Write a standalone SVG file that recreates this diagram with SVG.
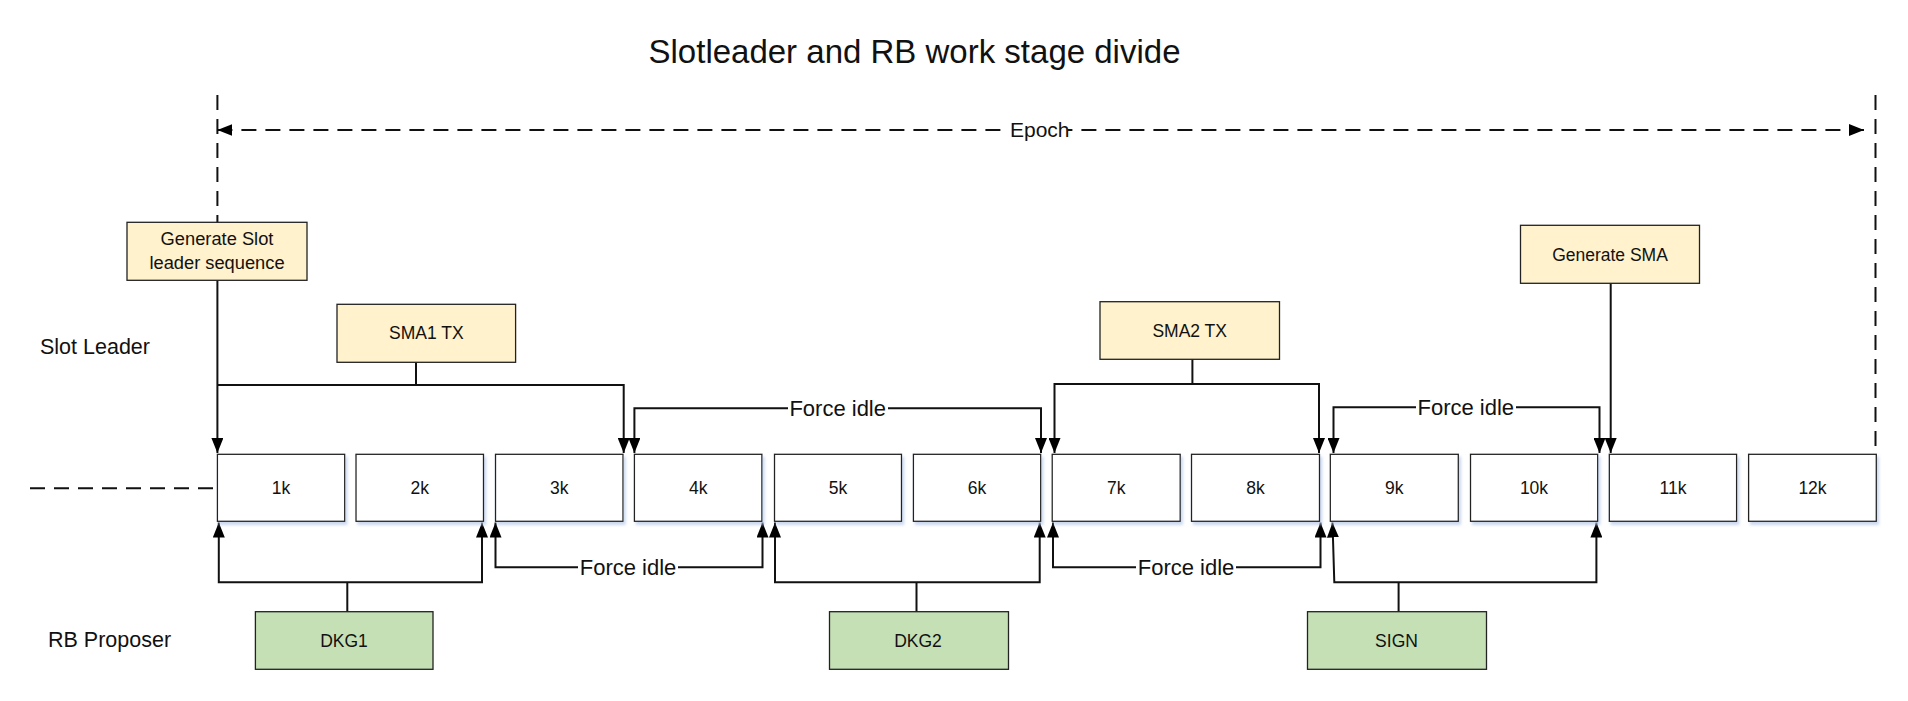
<svg xmlns="http://www.w3.org/2000/svg" width="1908" height="701" viewBox="0 0 1908 701">
<style>
text{font-family:"Liberation Sans",Arial,sans-serif;fill:#111}
.title{font-size:33px}
.lane{font-size:21.5px}
.lbl{font-size:17.5px;text-anchor:middle}
.fi{font-size:22px;text-anchor:middle}
.slot{fill:#fff;stroke:#222;stroke-width:1.3;filter:url(#sh)}
.yel{fill:#fff2cc;stroke:#222;stroke-width:1.3}
.grn{fill:#c5e0b4;stroke:#222;stroke-width:1.3}
.ln{fill:none;stroke:#111;stroke-width:2}
.dash{fill:none;stroke:#111;stroke-width:2;stroke-dasharray:15 9}
.bg{fill:#fff}
</style>
<defs>
<filter id="sh" x="-10%" y="-10%" width="130%" height="140%">
<feDropShadow dx="2" dy="3" stdDeviation="1.5" flood-color="#b4c7e7" flood-opacity="0.7"/>
</filter>
<marker id="ah" markerUnits="userSpaceOnUse" markerWidth="16" markerHeight="12" viewBox="0 0 16 12" refX="15" refY="6" orient="auto-start-reverse">
<path d="M0,0 L15,6 L0,12 z" fill="#000"/>
</marker>
</defs>
<rect width="1908" height="701" fill="#fff"/>
<text class="title" x="914.5" y="63" text-anchor="middle">Slotleader and RB work stage divide</text>
<text class="lane" x="40" y="354">Slot Leader</text>
<text class="lane" x="48" y="647">RB Proposer</text>

<g id="connectors">
<path class="dash" d="M217.4,95 V222.3"/>
<path class="dash" d="M1875.5,95 V454.3"/>
<path class="dash" d="M217.4,130 H1864" marker-start="url(#ah)" marker-end="url(#ah)"/>
<path class="dash" d="M30,488.3 H217.4"/>
<path class="ln" d="M217.4,280.3 V453" marker-end="url(#ah)"/>
<path class="ln" d="M416,362.3 V385"/>
<path class="ln" d="M217.4,385 H623.7 V453" marker-end="url(#ah)"/>
<path class="ln" d="M634.4,453 V408.3 H1041 V453" marker-start="url(#ah)" marker-end="url(#ah)"/>
<path class="ln" d="M1192.4,359.3 V384"/>
<path class="ln" d="M1054.5,453 V384 H1319 V453" marker-start="url(#ah)" marker-end="url(#ah)"/>
<path class="ln" d="M1333.5,453 V407.3 H1599.5 V453" marker-start="url(#ah)" marker-end="url(#ah)"/>
<path class="ln" d="M1610.7,283.3 V453" marker-end="url(#ah)"/>
<path class="ln" d="M347.3,611.7 V582.3"/>
<path class="ln" d="M218.8,522.5 V582.3 H482 V522.5" marker-start="url(#ah)" marker-end="url(#ah)"/>
<path class="ln" d="M495.5,522.5 V567.3 H762.5 V522.5" marker-start="url(#ah)" marker-end="url(#ah)"/>
<path class="ln" d="M916.5,611.7 V582.3"/>
<path class="ln" d="M775,522.5 V582.3 H1039.7 V522.5" marker-start="url(#ah)" marker-end="url(#ah)"/>
<path class="ln" d="M1053,522.5 V567.3 H1320.5 V522.5" marker-start="url(#ah)" marker-end="url(#ah)"/>
<path class="ln" d="M1398.6,611.7 V582.3"/>
<path class="ln" d="M1332.5,522.5 L1334.3,582.3 H1596.4 V522.5" marker-start="url(#ah)" marker-end="url(#ah)"/>
<rect class="bg" x="1009" y="117" width="59" height="26"/>
<text x="1010" y="137" style="font-size:21px">Epoch</text>
<rect class="bg" x="788" y="397" width="100" height="24"/>
<text class="fi" x="837.7" y="416">Force idle</text>
<rect class="bg" x="1416" y="396" width="100" height="24"/>
<text class="fi" x="1465.8" y="415">Force idle</text>
<rect class="bg" x="578" y="556" width="100" height="24"/>
<text class="fi" x="628" y="575">Force idle</text>
<rect class="bg" x="1136" y="556" width="100" height="24"/>
<text class="fi" x="1186" y="575">Force idle</text>
</g>

<g id="gen-slot"><rect class="yel" x="127" y="222.3" width="180" height="58"/>
<text class="lbl" x="217" y="245" style="font-size:18.3px">Generate Slot</text>
<text class="lbl" x="217" y="269" style="font-size:18.3px">leader sequence</text></g>
<g id="sma1"><rect class="yel" x="337" y="304.3" width="178.6" height="58"/><text class="lbl" x="426.3" y="339">SMA1 TX</text></g>
<g id="sma2"><rect class="yel" x="1100" y="301.7" width="179.5" height="57.6"/><text class="lbl" x="1189.7" y="337">SMA2 TX</text></g>
<g id="gen-sma"><rect class="yel" x="1520.5" y="225.3" width="179" height="58"/><text class="lbl" x="1610" y="260.5">Generate SMA</text></g>

<g id="s1"><rect class="slot" x="217.4" y="454.3" width="127.3" height="67"/><text class="lbl" x="281" y="494">1k</text></g>
<g id="s2"><rect class="slot" x="356" y="454.3" width="127.5" height="67"/><text class="lbl" x="419.8" y="494">2k</text></g>
<g id="s3"><rect class="slot" x="495.5" y="454.3" width="127.5" height="67"/><text class="lbl" x="559.3" y="494">3k</text></g>
<g id="s4"><rect class="slot" x="634.4" y="454.3" width="127.5" height="67"/><text class="lbl" x="698.2" y="494">4k</text></g>
<g id="s5"><rect class="slot" x="774.5" y="454.3" width="127" height="67"/><text class="lbl" x="838" y="494">5k</text></g>
<g id="s6"><rect class="slot" x="913.4" y="454.3" width="127.3" height="67"/><text class="lbl" x="977" y="494">6k</text></g>
<g id="s7"><rect class="slot" x="1052.2" y="454.3" width="128" height="67"/><text class="lbl" x="1116.2" y="494">7k</text></g>
<g id="s8"><rect class="slot" x="1191.5" y="454.3" width="128" height="67"/><text class="lbl" x="1255.5" y="494">8k</text></g>
<g id="s9"><rect class="slot" x="1330.3" y="454.3" width="128" height="67"/><text class="lbl" x="1394.3" y="494">9k</text></g>
<g id="s10"><rect class="slot" x="1470.5" y="454.3" width="127.2" height="67"/><text class="lbl" x="1534" y="494">10k</text></g>
<g id="s11"><rect class="slot" x="1609.3" y="454.3" width="127.3" height="67"/><text class="lbl" x="1673" y="494">11k</text></g>
<g id="s12"><rect class="slot" x="1748.6" y="454.3" width="127.7" height="67"/><text class="lbl" x="1812.5" y="494">12k</text></g>

<g id="dkg1"><rect class="grn" x="255.4" y="611.7" width="177.6" height="57.6"/><text class="lbl" x="344" y="647">DKG1</text></g>
<g id="dkg2"><rect class="grn" x="829.5" y="611.7" width="179" height="57.6"/><text class="lbl" x="918" y="647">DKG2</text></g>
<g id="sign"><rect class="grn" x="1307.5" y="611.7" width="179" height="57.6"/><text class="lbl" x="1396.5" y="647">SIGN</text></g>
</svg>
